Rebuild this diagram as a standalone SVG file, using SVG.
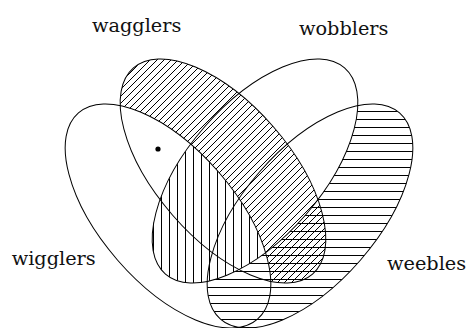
<svg xmlns="http://www.w3.org/2000/svg" xmlns:xlink="http://www.w3.org/1999/xlink" width="468" height="328" viewBox="0 0 468 328">
  <style>
    .outline { fill: none; stroke: #000; stroke-width: 1; }
    .hatch { stroke: #000; stroke-width: 1; fill: none; }
    .label { font-family: "DejaVu Serif", "Liberation Serif", serif; font-size: 19.3px; fill: #111; }
  </style>
  <defs>
    <ellipse id="eA" cx="0" cy="0" rx="136.5" ry="67" transform="translate(168 216) rotate(49)"/>
    <ellipse id="eB" cx="0" cy="0" rx="136.5" ry="67" transform="translate(223 171) rotate(49)"/>
    <ellipse id="eC" cx="0" cy="0" rx="136.5" ry="67" transform="translate(255 171) rotate(-49)"/>
    <ellipse id="eD" cx="0" cy="0" rx="136.5" ry="67" transform="translate(310 216) rotate(-49)"/>
    <pattern id="pDiag" patternUnits="userSpaceOnUse" x="0" y="0" width="7" height="7">
      <path class="hatch" d="M-1,1 L1,-1 M0,7 L7,0 M6,8 L8,6"/>
    </pattern>
    <pattern id="pVert" patternUnits="userSpaceOnUse" x="0" y="0" width="8" height="8">
      <path class="hatch" d="M1.5,0 V8"/>
    </pattern>
    <pattern id="pHorz" patternUnits="userSpaceOnUse" x="0" y="0" width="8" height="8">
      <path class="hatch" d="M0,7.5 H8"/>
    </pattern>
    <mask id="mDiag" maskUnits="userSpaceOnUse" x="0" y="0" width="468" height="328">
      <use href="#eB" fill="#fff"/>
      <use href="#eA" fill="#000"/>
    </mask>
    <mask id="mHorz" maskUnits="userSpaceOnUse" x="0" y="0" width="468" height="328">
      <use href="#eD" fill="#fff"/>
      <use href="#eC" fill="#000"/>
    </mask>
    <clipPath id="cA"><use href="#eA"/></clipPath>
    <clipPath id="cC"><use href="#eC"/></clipPath>
  </defs>

  <g id="shading">
    <rect x="0" y="0" width="468" height="328" fill="url(#pDiag)" mask="url(#mDiag)"/>
    <g clip-path="url(#cA)">
      <rect x="0" y="0" width="468" height="328" fill="url(#pVert)" clip-path="url(#cC)"/>
    </g>
    <rect x="0" y="0" width="468" height="328" fill="url(#pHorz)" mask="url(#mHorz)"/>
  </g>

  <g id="wigglers">
    <use href="#eA" class="outline"/>
    <text class="label" x="11.7" y="265">wigglers</text>
  </g>
  <g id="wagglers">
    <use href="#eB" class="outline"/>
    <text class="label" x="92" y="31.5">wagglers</text>
  </g>
  <g id="wobblers">
    <use href="#eC" class="outline"/>
    <text class="label" x="299" y="34.5">wobblers</text>
  </g>
  <g id="weebles">
    <use href="#eD" class="outline"/>
    <text class="label" x="387" y="270">weebles</text>
  </g>
  <g id="marker">
    <circle cx="158" cy="149" r="2.6" fill="#000"/>
  </g>
</svg>
